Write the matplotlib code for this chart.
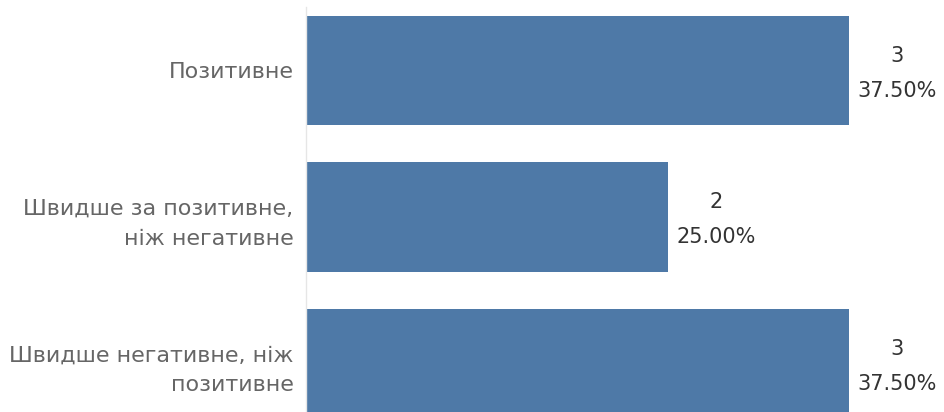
import matplotlib

matplotlib.use("Agg")
import matplotlib.pyplot as plt

BAR = "#4e79a7"
LABEL = "#666666"
VALUE = "#333333"
AXIS = "#e6e6e6"

categories = [
    "Позитивне",
    "Швидше за позитивне,\nніж негативне",
    "Швидше негативне, ніж\nпозитивне",
]
counts = [3, 2, 3]
shares = [37.50, 25.00, 37.50]

plt.rcParams["font.family"] = ["DejaVu Sans"]

fig = plt.figure(figsize=(9.45, 4.12), dpi=100)
ax = fig.add_axes([306 / 945, 0, 1 - 306 / 945, 1])

ypos = list(range(len(categories)))
ax.barh(ypos, counts, height=0.75, color=BAR)

ax.set_xlim(0, 3.53)
ax.set_ylim(2.331, -0.481)

ax.set_yticks(ypos)
ax.set_yticklabels(categories, fontsize=16, color=LABEL, ha="right", multialignment="right", linespacing=1.6)
ax.tick_params(axis="y", length=0, pad=9)
ax.set_xticks([])

for spine in ["top", "right", "bottom"]:
    ax.spines[spine].set_visible(False)
ax.spines["left"].set_color(AXIS)
ax.spines["left"].set_linewidth(1)
ax.spines["left"].set_bounds(2.331, -0.43)

for y, c, s in zip(ypos, counts, shares):
    ax.annotate(
        f"{c}\n{s:.2f}%",
        xy=(c, y),
        xytext=(6, -2),
        textcoords="offset points",
        ha="left",
        va="center",
        multialignment="center",
        fontsize=15,
        color=VALUE,
        linespacing=1.95,
    )

fig.savefig("out.png", dpi=100, facecolor="white")
